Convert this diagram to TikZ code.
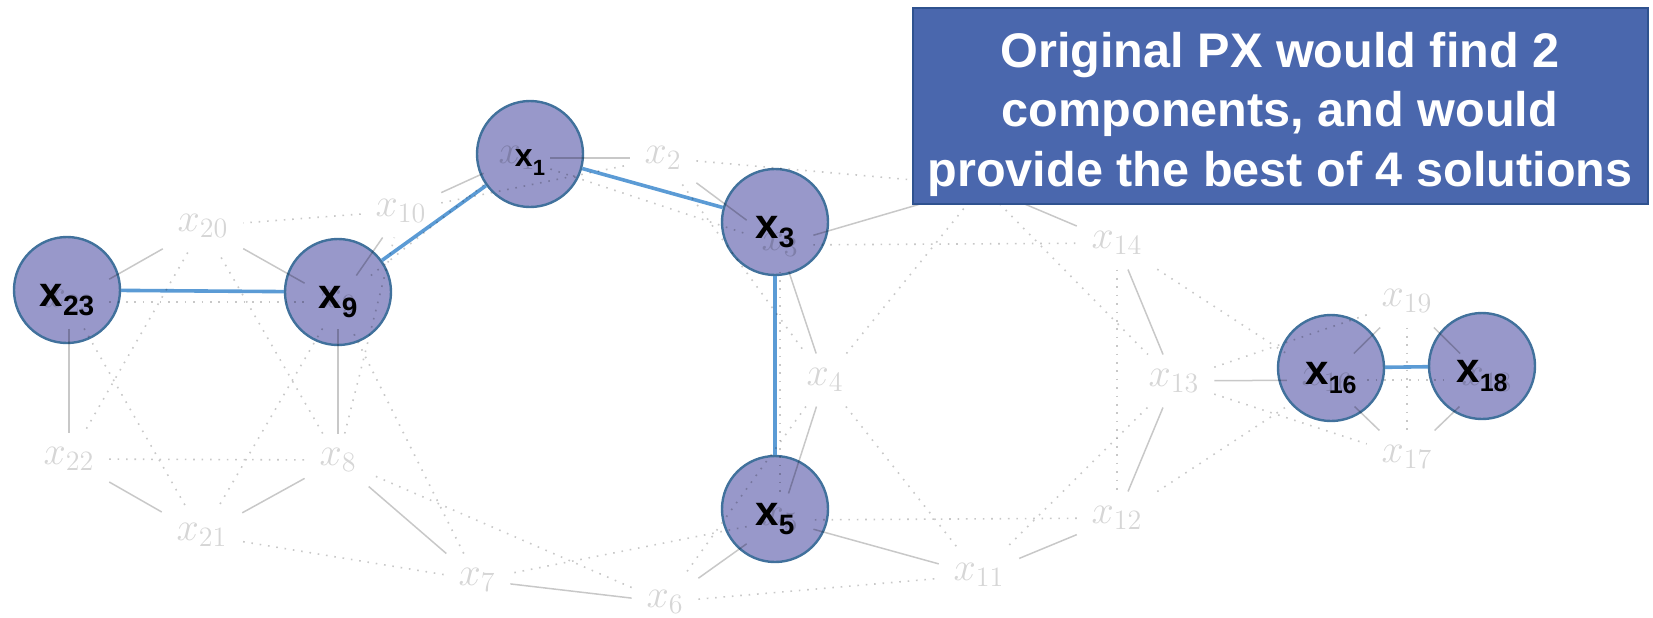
\RequirePackage{fix-cm}
\documentclass[tikz,border=0pt]{standalone}
\usepackage{fontspec}
\newfontfamily\sansbold{Liberation Sans}

\definecolor{edgegrey}{RGB}{200,200,200}
\definecolor{labelgrey}{RGB}{214,214,214}
\definecolor{nodefill}{RGB}{152,152,202}
\definecolor{nodeline}{RGB}{65,113,156}
\definecolor{pathblue}{RGB}{91,155,213}
\definecolor{notefill}{RGB}{74,103,173}
\definecolor{noteline}{RGB}{47,82,143}

% lowered subscript for the bold variable names
\newcommand{\pksub}[2][14]{\raisebox{-4.5pt}{\fontsize{#1}{#1}\selectfont #2}}

\tikzset{
  vlabel/.style={rectangle, inner sep=7.25pt, text=labelgrey,
    font=\fontsize{20}{24}\selectfont},
  solidedge/.style={draw=edgegrey, line width=0.75pt},
  dotedge/.style={draw=edgegrey, line width=0.8pt, dash pattern=on 0.8pt off 3.4pt},
  pick/.style={circle, minimum size=53pt, inner sep=0pt, fill=nodefill,
    draw=nodeline, line width=1.2pt},
  picklabel/.style={inner sep=0pt, text=black,
    font=\sansbold\bfseries\fontsize{21}{21}\selectfont},
  chosen/.style={draw=pathblue, line width=1.8pt},
  notebox/.style={rectangle, fill=notefill, draw=noteline, line width=0.8pt,
    minimum width=367.5pt, minimum height=98pt, inner sep=0pt},
  notetext/.style={align=center, text=white, inner sep=0pt,
    font=\sansbold\bfseries\fontsize{24.3}{29.75}\selectfont}
}

\begin{document}
\begin{tikzpicture}[x=0.5pt, y=-0.5pt]
\useasboundingbox (0,0) rectangle (1653,617);

% selected variables
\node[pick] (c23) at (67,290) {};
\node[pick] (c9)  at (338,292) {};
\node[pick] (c1)  at (530,154) {};
\node[pick] (c3)  at (775,222) {};
\node[pick] (c5)  at (775,509) {};
\node[pick] (c16) at (1331,368) {};
\node[pick] (c18) at (1482,366) {};

% links between the selected variables
\draw[chosen] (c23) -- (c9);
\draw[chosen] (c9) -- (c1);
\draw[chosen] (c1) -- (c3);
\draw[chosen] (c3) -- (c5);
\draw[chosen] (c16) -- (c18);

% the variable interaction graph
\begin{scope}[blend mode=multiply]
  \node[vlabel] (g1)  at (517,158)  {$x_{1}$};
  \node[vlabel] (g2)  at (663,158)  {$x_{2}$};
  \node[vlabel] (g3)  at (780,245)  {$x_{3}$};
  \node[vlabel] (g4)  at (825,380)  {$x_{4}$};
  \node[vlabel] (g5)  at (780,520)  {$x_{5}$};
  \node[vlabel] (g6)  at (665,602)  {$x_{6}$};
  \node[vlabel] (g7)  at (477,580)  {$x_{7}$};
  \node[vlabel] (g8)  at (338,460)  {$x_{8}$};
  \node[vlabel] (g9)  at (338,302)  {$x_{9}$};
  \node[vlabel] (g10) at (401,211)  {$x_{10}$};
  \node[vlabel] (g11) at (979,575)  {$x_{11}$};
  \node[vlabel] (g12) at (1117,518) {$x_{12}$};
  \node[vlabel] (g13) at (1174,381) {$x_{13}$};
  \node[vlabel] (g14) at (1117,243) {$x_{14}$};
  \coordinate   (g15) at (982,186);
  \node[vlabel] (g16) at (1327,380) {$x_{16}$};
  \node[vlabel] (g17) at (1407,457) {$x_{17}$};
  \node[vlabel] (g18) at (1487,380) {$x_{18}$};
  \node[vlabel] (g19) at (1407,301) {$x_{19}$};
  \node[vlabel] (g20) at (203,226)  {$x_{20}$};
  \node[vlabel] (g21) at (202,535)  {$x_{21}$};
  \node[vlabel] (g22) at (69,459)   {$x_{22}$};
  \node[vlabel] (g23) at (69,302)   {$x_{23}$};

  % direct interactions
  \foreach \a/\b in {1/2,2/3,3/4,4/5,5/6,6/7,7/8,8/9,9/10,10/1,
                     9/20,20/23,23/22,22/21,21/8,
                     3/15,15/14,14/13,13/12,12/11,11/5,
                     13/16,16/19,19/18,18/17,17/16}
    \draw[solidedge] (g\a) -- (g\b);

  % second-order interactions
  \foreach \a/\b in {1/3,2/4,3/5,4/6,5/7,6/8,7/9,8/10,9/1,10/2,
                     10/20,8/20,9/21,7/21,23/9,20/22,23/21,22/8,
                     2/15,4/15,3/14,15/13,14/12,14/16,12/16,13/11,12/5,4/11,6/11,
                     13/19,13/17,19/17,16/18}
    \draw[dotedge] (g\a) -- (g\b);
\end{scope}

% names of the selected variables
\node[picklabel] (l23) at ([yshift=-5pt]c23.center) {x\pksub{23}};
\node[picklabel] (l9)  at ([yshift=-5pt]c9.center)  {x\pksub{9}};
\node[picklabel, font=\sansbold\bfseries\fontsize{16}{16}\selectfont] (l1)
      at ([yshift=-4.5pt]c1.center) {x\pksub[11]{1}};
\node[picklabel] (l3)  at ([yshift=-5pt]c3.center)  {x\pksub{3}};
\node[picklabel] (l5)  at ([yshift=-5pt]c5.center)  {x\pksub{5}};
\node[picklabel] (l16) at ([yshift=-5pt]c16.center) {x\pksub[12.5]{16}};
\node[picklabel] (l18) at ([yshift=-5pt]c18.center) {x\pksub[12.5]{18}};

% callout
\node[notebox] (note) at (1280.5,106) {};
\node[notetext] (notetxt) at (1280,114)
  {Original PX would find 2\\components, and would\\provide the best of 4 solutions};
\end{tikzpicture}
\end{document}
